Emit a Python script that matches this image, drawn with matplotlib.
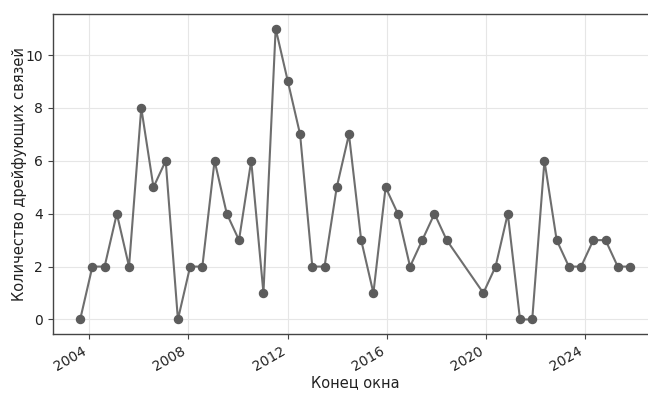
import numpy as np
import pandas as pd
import matplotlib
matplotlib.use('Agg')
import matplotlib.pyplot as plt
import matplotlib.dates as mdates

# window end dates (roughly every 180 days, two windows missing in 2018-2019)
WINDOW_END = [
    '2003-08-21', '2004-02-17', '2004-08-15', '2005-02-11', '2005-08-10',
    '2006-02-06', '2006-08-05', '2007-02-01', '2007-07-31', '2008-01-27',
    '2008-07-25', '2009-01-21', '2009-07-20', '2010-01-16', '2010-07-15',
    '2011-01-11', '2011-07-10', '2012-01-06', '2012-07-04', '2012-12-31',
    '2013-06-29', '2013-12-26', '2014-06-24', '2014-12-21', '2015-06-19',
    '2015-12-16', '2016-06-13', '2016-12-10', '2017-06-08', '2017-12-05',
    '2018-06-03', '2019-11-25', '2020-05-23', '2020-11-19', '2021-05-18',
    '2021-11-14', '2022-05-13', '2022-11-09', '2023-05-08', '2023-11-04',
    '2024-05-02', '2024-10-29', '2025-04-27', '2025-10-24',
]
DRIFT_COUNT = [
    0, 2, 2, 4, 2, 8, 5, 6, 0, 2,
    2, 6, 4, 3, 6, 1, 11, 9, 7, 2,
    2, 5, 7, 3, 1, 5, 4, 2, 3, 4,
    3, 1, 2, 4, 0, 0, 6, 3, 2, 2,
    3, 3, 2, 2,
]

dates = pd.to_datetime(WINDOW_END)

fig = plt.figure(figsize=(6.48, 3.95), dpi=100)
ax = fig.add_axes([0.0813, 0.1544, 0.9333, 0.8101])

ax.plot(dates, DRIFT_COUNT, color='#6e6e6e', linewidth=1.5, marker='o',
        markersize=5.8, markerfacecolor='#5c5c5c', markeredgecolor='#5c5c5c')

ax.set_ylim(-0.55, 11.55)
ax.set_yticks([0, 2, 4, 6, 8, 10])
ax.xaxis.set_major_locator(mdates.YearLocator(4))
ax.xaxis.set_major_formatter(mdates.DateFormatter('%Y'))
for lbl in ax.get_xticklabels():
    lbl.set_rotation(30)
    lbl.set_ha('right')

ax.grid(True, color='#e6e6e6', linewidth=0.8)
ax.set_axisbelow(True)
for sp in ax.spines.values():
    sp.set_color('#444444')
    sp.set_linewidth(1.0)
ax.tick_params(colors='#222222', labelsize=10, length=3.5, color='#444444')

ax.set_xlabel('Конец окна', fontsize=10.5, color='#222222', labelpad=1)
ax.set_ylabel('Количество дрейфующих связей', fontsize=10.5, color='#222222',
              labelpad=-1)

fig.savefig('out.png', dpi=100)
